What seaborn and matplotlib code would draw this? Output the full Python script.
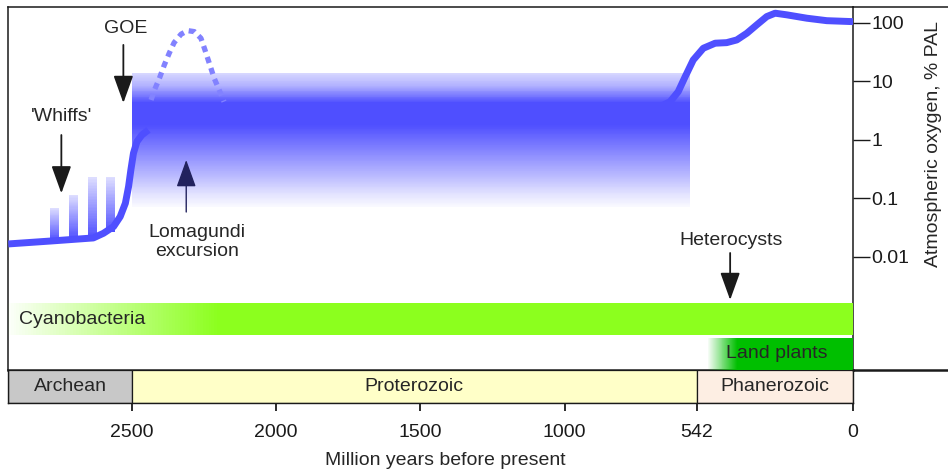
import numpy as np
import matplotlib
matplotlib.use('Agg')
import matplotlib.pyplot as plt
import seaborn as sns
from matplotlib.colors import LinearSegmentedColormap, to_rgba
from matplotlib.lines import Line2D
from matplotlib.ticker import NullLocator

# oxygen curve: age in Ma, oxygen in % PAL
archean_age = [2929, 2783, 2634, 2599, 2564, 2541, 2523, 2512, 2504, 2495, 2483, 2466, 2443]
archean_o2 = [0.0165, 0.0185, 0.0209, 0.0251, 0.0326, 0.0483, 0.0819, 0.157, 0.303, 0.586,
              0.924, 1.20, 1.47]
late_age = [760, 669, 634, 606, 582, 554, 519, 478, 438, 403, 368, 334, 299, 270, 230, 160, 91, 0]
late_o2 = [3.3, 3.66, 4.46, 6.62, 11.9, 23.0, 36.5, 44.5, 45.5, 50.6, 65.9, 91.4, 127, 145,
           136, 119, 108, 104]

lomagundi_age = [2434, 2421, 2405, 2388, 2371, 2354, 2330, 2307, 2284, 2261, 2247, 2232, 2215, 2198, 2181]
lomagundi_o2 = [4.77, 7.27, 11.2, 18.9, 30.0, 45.5, 63.4, 73.0, 70.2, 54.1, 34.1, 20.2, 11.2, 7.08, 4.46]

whiff_age = [2768, 2704, 2638, 2574]
whiff_top = [0.068, 0.113, 0.23, 0.23]
whiff_base = [0.019, 0.020, 0.021, 0.026]
whiff_width = 32

band_age = [2500, 565]
band_o2 = [0.071, 13.8]

life_rows = ['Land plants', 'Cyanobacteria']
life_fade = [503, 2930]
life_full = [402, 2200]
life_colors = ['#00bf00', '#8cff1e']

eras = ['Archean', 'Proterozoic', 'Phanerozoic']
era_start = [2930, 2500, 542]
era_end = [2500, 542, 0]
era_colors = ['#c8c8c8', '#ffffc8', '#fdeee3']

age_ticks = [2500, 2000, 1500, 1000, 542, 0]
o2_ticks = [100, 10, 1, 0.1, 0.01]
o2_labels = ['100', '10', '1', '0.1', '0.01']

BLUE = '#4f4fff'
FS = 14

sns.set_theme(style='ticks')
plt.rcParams['font.family'] = ['Liberation Sans', 'DejaVu Sans']


def fade(ax, xe, ye, alpha, color, z=2):
    cmap = LinearSegmentedColormap.from_list('f', [to_rgba(color, 0), to_rgba(color, 1)])
    ax.pcolormesh(xe, ye, alpha, cmap=cmap, vmin=0, vmax=1, shading='flat',
                  zorder=z, edgecolors='none', antialiased=False)


fig = plt.figure(figsize=(9.48, 4.72), dpi=100)
L, R = 8 / 948, 853 / 948
fy = lambda p: 1 - p / 472
ax = fig.add_axes([L, fy(370), R - L, fy(7) - fy(370)])
ax_life = fig.add_axes([L, fy(370), R - L, fy(303) - fy(370)])
ax_era = fig.add_axes([L, fy(403), R - L, fy(370) - fy(403)])
for a in (ax, ax_life, ax_era):
    a.set_xlim(2930, 0)

# --- oxygen panel ---
ax.set_yscale('log')
ax.set_ylim(1.156e-4, 185)

# Proterozoic band, darkest just under its upper edge
ye = np.geomspace(band_o2[0], band_o2[1], 160)
yc = np.sqrt(ye[:-1] * ye[1:])
t = np.log(yc / band_o2[0]) / np.log(band_o2[1] / band_o2[0])
a = np.interp(t, [0, 0.089, 0.238, 0.425, 0.612, 0.78, 0.84, 0.9, 1.0],
              [0.03, 0.15, 0.4, 0.7, 1.0, 1.0, 0.72, 0.45, 0.22])
fade(ax, band_age, ye, a[:, None], BLUE, z=3)

# whiffs
for age, base, top in zip(whiff_age, whiff_base, whiff_top):
    ye = np.geomspace(base, top, 40)
    yc = np.sqrt(ye[:-1] * ye[1:])
    t = np.log(yc / base) / np.log(top / base)
    fade(ax, [age + whiff_width / 2, age - whiff_width / 2], ye,
         np.interp(t, [0, 1], [1, 0.18])[:, None], BLUE, z=2)

line_kw = dict(color=BLUE, lw=5, sort=False, estimator=None, zorder=4,
               solid_capstyle='butt', solid_joinstyle='round')
sns.lineplot(x=archean_age, y=archean_o2, ax=ax, **line_kw)
sns.lineplot(x=late_age, y=late_o2, ax=ax, **line_kw)
sns.lineplot(x=lomagundi_age, y=lomagundi_o2, ax=ax, color='#8282ff', lw=3.8, sort=False,
             estimator=None, zorder=4, linestyle=(0, (1.2, 1.0)), dash_capstyle='butt')

# annotations
arrows = [(2530, 41.6, 4.24, 'k', 1.3), (2745, 1.2, 0.121, 'k', 1.3),
          (2312, 0.058, 0.45, '#22225e', 1.0), (426, 0.01156, 0.00182, 'k', 1.3)]
for x, tail, tip, c, lw in arrows:
    ax.annotate('', xy=(x, tip), xytext=(x, tail), zorder=6,
                arrowprops=dict(arrowstyle='-|>,head_length=1.0,head_width=0.36',
                                mutation_scale=17, color=c, lw=lw, shrinkA=0, shrinkB=0))
ax.text(2523, 80, 'GOE', ha='center', va='center', fontsize=FS)
ax.text(2745, 2.49, "'Whiffs'", ha='center', va='center', fontsize=FS)
ax.text(2274, 0.0175, 'Lomagundi\nexcursion', ha='center', va='center', fontsize=FS,
        linespacing=1.15)
ax.text(423, 0.0186, 'Heterocysts', ha='center', va='center', fontsize=FS)

ax.set_xticks([])
ax.yaxis.tick_right()
ax.set_yticks(o2_ticks, o2_labels)
ax.yaxis.set_minor_locator(NullLocator())
ax.tick_params(axis='y', which='major', right=True, left=False, labelright=True,
               length=12, width=1, pad=1.5, labelsize=FS, colors='k')
ax.text(1.0947, 0.6226, 'Atmospheric oxygen, % PAL', transform=ax.transAxes,
        rotation=90, ha='center', va='center', fontsize=FS)
ax.set_xlabel('')
ax.set_ylabel('')
for side in ax.spines:
    ax.spines[side].set_color('k')
    ax.spines[side].set_linewidth(1.1)
ax.spines['bottom'].set_linewidth(1.8)

# --- life bars ---
ax_life.set_facecolor('none')
ax_life.set_ylim(-0.47, 1.47)
for row, (name, f0, f1, col) in enumerate(zip(life_rows, life_fade, life_full, life_colors)):
    xe = np.linspace(f0, 0, 300)
    xc = (xe[:-1] + xe[1:]) / 2
    alpha = np.interp(-xc, [-f0, -f1], [0.02, 1])
    fade(ax_life, xe, [row - 0.47, row + 0.47], alpha[None, :], col)
ax_life.text(2891, 1, 'Cyanobacteria', ha='left', va='center', fontsize=FS)
ax_life.text(263, 0, 'Land plants', ha='center', va='center', fontsize=FS)
ax_life.axis('off')

# --- eras ---
ax_era.barh(0, np.subtract(era_start, era_end), left=era_end, height=1,
            color=era_colors, edgecolor='k', linewidth=0.9)
for name, s, e in zip(eras, era_start, era_end):
    ax_era.text((s + e) / 2, 0, name, ha='center', va='center', fontsize=FS)
ax_era.set_ylim(-0.5, 0.5)
ax_era.set_yticks([])
ax_era.set_xticks(age_ticks, [str(v) for v in age_ticks])
ax_era.tick_params(axis='x', bottom=True, length=6, width=1.3, pad=9, labelsize=FS, colors='k')
ax_era.spines['top'].set_visible(False)
for side in ('left', 'right', 'bottom'):
    ax_era.spines[side].set_color('k')
    ax_era.spines[side].set_linewidth(1.0)
ax_era.set_xlabel('Million years before present', fontsize=FS)
ax_era.xaxis.set_label_coords(0.518, -1.5)

# frame lines running on to the right edge
fig.add_artist(Line2D([R, 1], [fy(7), fy(7)], color='k', lw=1.1, transform=fig.transFigure))
fig.add_artist(Line2D([R, 1], [fy(370), fy(370)], color='k', lw=1.8, transform=fig.transFigure))

fig.savefig('out.png', dpi=100)
